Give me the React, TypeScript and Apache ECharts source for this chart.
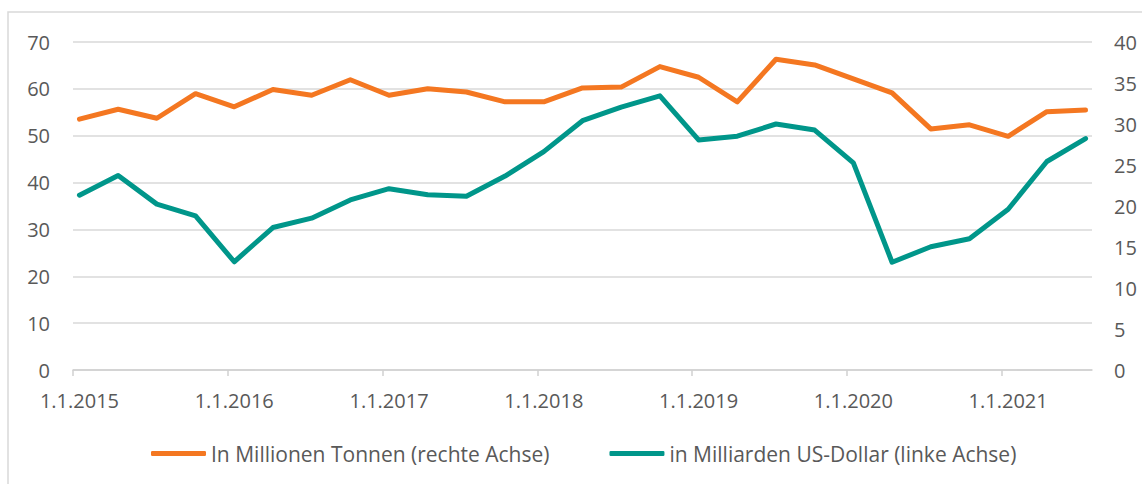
import React, { useEffect, useRef } from "react";
import * as echarts from "echarts";

const startYear = 2015;
const monthCount = 79; // Jan 2015 .. Jul 2021
const quarterStep = 3;

const tonnenValues = [
  30.6, 31.8, 30.7, 33.7, 32.1, 34.2, 33.5, 35.4, 33.5, 34.3, 33.9, 32.7, 32.7, 34.4,
  34.5, 37.0, 35.7, 32.7, 37.9, 37.2, 35.5, 33.8, 29.4, 29.9, 28.5, 31.5, 31.7,
];
const dollarValues = [
  37.3, 41.5, 35.4, 32.9, 23.1, 30.4, 32.4, 36.3, 38.7, 37.4, 37.1, 41.4, 46.6, 53.2,
  56.1, 58.5, 49.1, 49.9, 52.5, 51.2, 44.2, 23.0, 26.3, 28.0, 34.3, 44.5, 49.4,
];

const seriesNames = [
  "In Millionen Tonnen (rechte Achse)",
  "in Milliarden US-Dollar (linke Achse)",
];
const colors = ["#F47721", "#00968A"];

const leftTicks = { min: 0, max: 70, interval: 10 };
const rightTicks = { min: 0, max: 40, interval: 5 };

const categories = Array.from({ length: monthCount }, (_, i) => {
  const y = startYear + Math.floor(i / 12);
  const m = (i % 12) + 1;
  return `1.${m}.${y}`;
});
// month boundaries (one more than months) for the tick axis
const boundaries = Array.from({ length: monthCount + 1 }, (_, i) => String(i));

function toMonthly(values: number[]) {
  const arr: (number | null)[] = new Array(monthCount).fill(null);
  values.forEach((v, i) => {
    arr[i * quarterStep] = v;
  });
  return arr;
}

export default function App() {
  const ref = useRef<HTMLDivElement>(null);
  useEffect(() => {
    if (!ref.current) return;
    const chart = echarts.init(ref.current, null, { renderer: "svg" });
    const labelStyle = {
      color: "#595959",
      fontSize: 20,
      fontFamily: "Open Sans",
    };
    chart.setOption({
      animation: false,
      backgroundColor: "#ffffff",
      graphic: [
        {
          type: "rect",
          shape: { x: 8, y: 12, width: 1200, height: 600 },
          style: { fill: "none", stroke: "#D9D9D9", lineWidth: 1.5 },
          silent: true,
          z: -10,
        },
      ],
      grid: { left: 73, right: 50, top: 42, bottom: 114, containLabel: false },
      legend: {
        left: 146,
        top: 438,
        itemWidth: 55,
        itemHeight: 5,
        itemGap: 60,
        icon: "roundRect",
        textStyle: { color: "#595959", fontSize: 21, fontFamily: "Open Sans" },
        data: seriesNames,
      },
      xAxis: [
        {
          type: "category",
          data: categories,
          boundaryGap: true,
          axisLine: { lineStyle: { color: "#D0D0D0", width: 1.5 } },
          axisTick: { show: false },
          axisLabel: { ...labelStyle, interval: 11, margin: 20 },
          splitLine: { show: false },
        },
        {
          type: "category",
          data: boundaries,
          boundaryGap: false,
          position: "bottom",
          axisLine: { show: false },
          axisTick: {
            show: true,
            interval: (i: number) => i % 12 === 0,
            length: 6,
            lineStyle: { color: "#D0D0D0", width: 1.5 },
          },
          axisLabel: { show: false },
          splitLine: { show: false },
        },
      ],
      yAxis: [
        {
          type: "value",
          ...leftTicks,
          position: "left",
          axisLine: { show: false },
          axisTick: { show: false },
          axisLabel: { ...labelStyle, margin: 23 },
          splitLine: { lineStyle: { color: "#D9D9D9", width: 1.5 } },
        },
        {
          type: "value",
          ...rightTicks,
          position: "right",
          axisLine: { show: false },
          axisTick: { show: false },
          axisLabel: { ...labelStyle, margin: 22 },
          splitLine: { show: false },
        },
      ],
      series: [
        {
          name: seriesNames[0],
          type: "line",
          xAxisIndex: 0,
          yAxisIndex: 1,
          data: toMonthly(tonnenValues),
          connectNulls: true,
          showSymbol: false,
          symbol: "none",
          color: colors[0],
          lineStyle: { width: 5, color: colors[0], join: "round", cap: "round" },
          z: 3,
        },
        {
          name: seriesNames[1],
          type: "line",
          xAxisIndex: 0,
          yAxisIndex: 0,
          data: toMonthly(dollarValues),
          connectNulls: true,
          showSymbol: false,
          symbol: "none",
          color: colors[1],
          lineStyle: { width: 5, color: colors[1], join: "round", cap: "round" },
          z: 2,
        },
      ],
    });
    return () => chart.dispose();
  }, []);
  return (
    <div
      ref={ref}
      style={{ position: "fixed", left: 0, top: 0, width: 1142, height: 484 }}
    />
  );
}
